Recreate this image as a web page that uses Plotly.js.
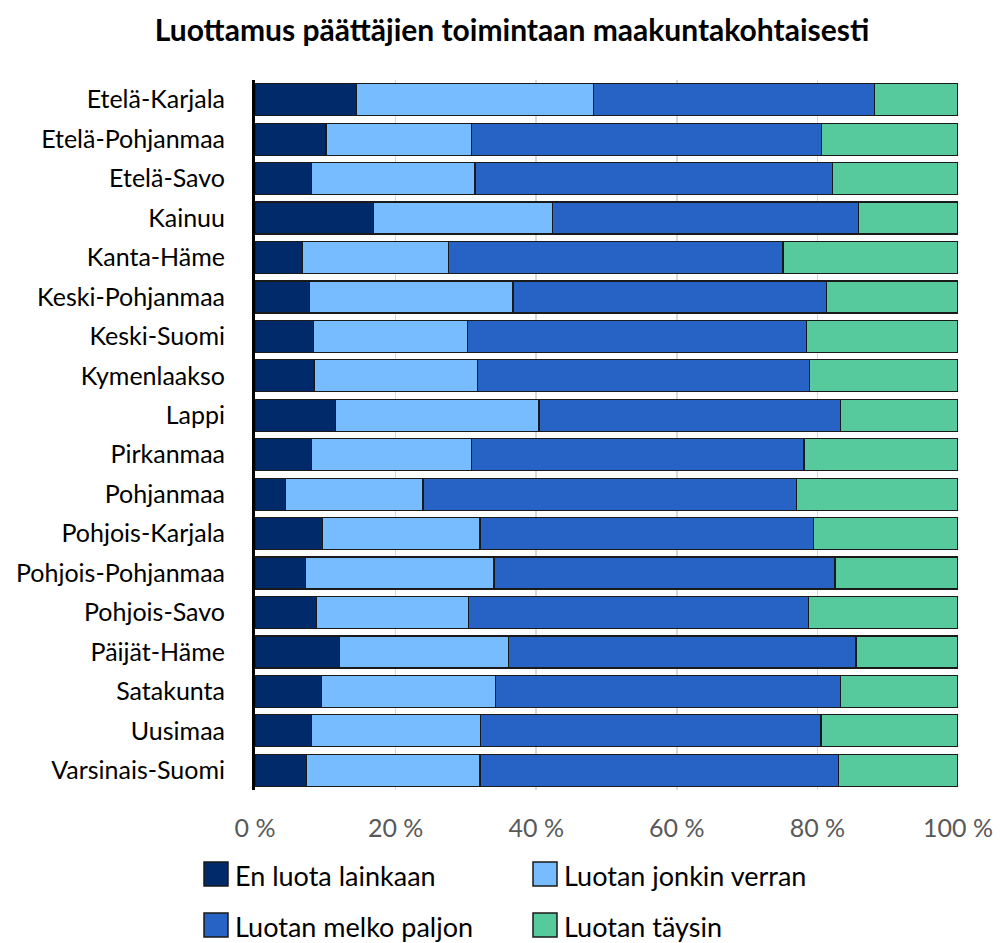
<!DOCTYPE html>
<html>
<head>
<meta charset="utf-8">
<script src="https://cdn.plot.ly/plotly-3.0.1.min.js"></script>
<style>html,body{margin:0;padding:0;background:#fff;}#chart{width:1000px;height:943px;}</style>
</head>
<body>
<div id="chart"></div>
<script>
var regions = ["Etelä-Karjala","Etelä-Pohjanmaa","Etelä-Savo","Kainuu","Kanta-Häme","Keski-Pohjanmaa","Keski-Suomi","Kymenlaakso","Lappi","Pirkanmaa","Pohjanmaa","Pohjois-Karjala","Pohjois-Pohjanmaa","Pohjois-Savo","Päijät-Häme","Satakunta","Uusimaa","Varsinais-Suomi"];
var seriesNames = ["En luota lainkaan","Luotan jonkin verran","Luotan melko paljon","Luotan täysin"];
var enLuota      = [14.4,10.1, 8.0,16.8, 6.7, 7.8, 8.3, 8.4,11.4, 8.0, 4.3, 9.6, 7.2, 8.7,12.0, 9.5, 8.0, 7.3];
var jonkinVerran = [33.7,20.7,23.3,25.5,20.8,28.9,21.9,23.2,29.0,22.8,19.6,22.4,26.8,21.7,24.1,24.7,24.1,24.7];
var melkoPaljon  = [40.0,49.8,50.8,43.6,47.6,44.6,48.3,47.3,42.9,47.3,53.1,47.5,48.5,48.3,49.4,49.1,48.4,51.0];
var taysin       = [11.9,19.4,17.9,14.1,24.9,18.7,21.5,21.1,16.7,21.9,23.0,20.5,17.5,21.3,14.5,16.7,19.5,17.0];
var xTicks = [0,20,40,60,80,100];
var colors = ["#012A6B","#76BCFF","#2663C4","#56C99D"];

var FONT = "Lato, 'Open Sans', sans-serif";
var values = [enLuota, jonkinVerran, melkoPaljon, taysin];
var traces = values.map(function(v, i){
  return {
    type: 'bar', orientation: 'h', name: seriesNames[i],
    y: regions, x: v,
    marker: {color: colors[i], line: {color: '#1a1a1a', width: 1.2}},
    showlegend: false, hoverinfo: 'x+y+name'
  };
});

// plot box in pixels
var L = 255, T = 80, W = 703, H = 710;
function px(x){ return (x - L) / W; }
function py(y){ return (T + H - y) / H; }

var shapes = [], annotations = [];
var legCols = [204, 533], legRows = [874, 925], sq = 24;
seriesNames.forEach(function(n, i){
  var cx = legCols[i % 2], cy = legRows[Math.floor(i / 2)];
  shapes.push({type:'rect', xref:'paper', yref:'paper',
    x0: px(cx), x1: px(cx + sq), y0: py(cy + sq/2), y1: py(cy - sq/2),
    fillcolor: colors[i], line: {color: '#1a1a1a', width: 1.5}});
  annotations.push({xref:'paper', yref:'paper', x: px(cx + sq + 5), y: py(cy + 1),
    xanchor:'left', yanchor:'middle', showarrow:false, text: n,
    font:{family: FONT, size: 27, color:'#000'}});
});

var layout = {
  width: 1000, height: 943,
  margin: {l: L, r: 1000 - L - W, t: T, b: 943 - T - H},
  paper_bgcolor: '#fff', plot_bgcolor: '#fff',
  barmode: 'stack', bargap: 0.19,
  title: {text: '<b>Luottamus päättäjien toimintaan maakuntakohtaisesti</b>',
    x: 0.512, xanchor: 'center', y: 0.968, yanchor: 'middle',
    font: {family: FONT, size: 30, color: '#000'}},
  xaxis: {range: [0, 100], tickvals: xTicks, ticktext: xTicks.map(function(t){return t + '\u00a0%';}),
    showgrid: true, gridcolor: '#d9d9d9', gridwidth: 1.5, zeroline: false,
    showline: false, ticks: 'outside', ticklen: 16, tickcolor: 'rgba(0,0,0,0)',
    tickfont: {family: FONT, size: 25, color: '#595959'}, fixedrange: true},
  yaxis: {type: 'category', autorange: 'reversed', showgrid: false, zeroline: false,
    showline: true, linecolor: '#000', linewidth: 3,
    ticks: 'outside', ticklen: 22, tickcolor: 'rgba(0,0,0,0)',
    tickfont: {family: FONT, size: 25, color: '#000'}, fixedrange: true},
  shapes: shapes, annotations: annotations,
  font: {family: FONT}
};
Plotly.newPlot('chart', traces, layout, {displayModeBar: false, staticPlot: true});
</script>
</body>
</html>
